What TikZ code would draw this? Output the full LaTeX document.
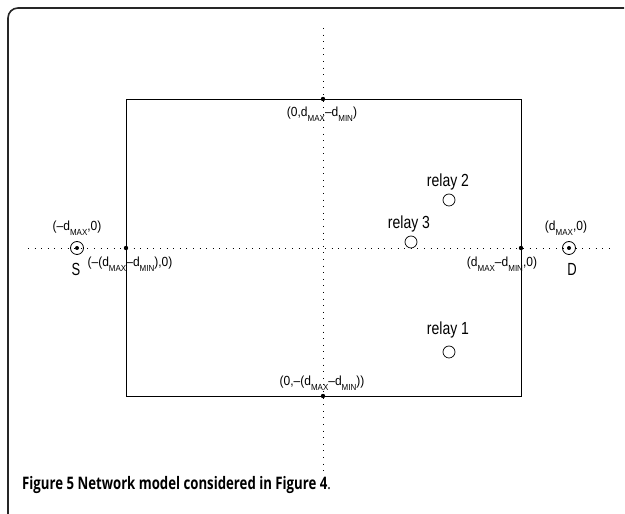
\documentclass[tikz,border=0pt]{standalone}
\usepackage{graphicx}
\usepackage{fontspec}
\setmainfont{Liberation Sans}
\newfontfamily\capfont{Open Sans}
\newcommand{\lowtxt}[1]{\raisebox{-.65ex}{\fontsize{8}{9}\selectfont #1}}
\newcommand{\dmax}{d\lowtxt{MAX}}
\newcommand{\dmin}{d\lowtxt{MIN}}
\newcommand{\tall}[2][1.2]{\scalebox{1}[#1]{#2}}
\tikzset{
  axis/.style={line width=.6pt, dash pattern=on .6pt off 6pt},
  term/.style={circle, draw, line width=.8pt, minimum size=13pt, inner sep=0pt},
  relay/.style={circle, draw, line width=.7pt, minimum size=12pt, inner sep=0pt},
  crd/.style={font=\fontsize{12}{14}\selectfont, inner sep=1pt},
  lbl/.style={font=\fontsize{14}{16}\selectfont, inner sep=1pt}
}
\begin{document}
\begin{tikzpicture}[x=1pt, y=1pt]
\useasboundingbox (0,0) rectangle (625,514);
\draw[line width=1.6pt, black!85, rounded corners=10pt] (8,0) -- (8,506) -- (624,506);
\coordinate (xl) at (28,266);
\coordinate (xr) at (612,266);
\coordinate (yt) at (323,486);
\coordinate (yb) at (323,42);
\draw[axis] (xl) -- (xr);
\draw[axis] (yt) -- (yb);
\draw[line width=.8pt] (126,118) rectangle (521,415);
\foreach \p/\q in {pl/{126,266}, pr/{521,266}, pt/{323,415}, pb/{323,118}}
  \fill (\q) coordinate (\p) circle (2.2pt);
\node[term] (s) at (77,266) {};
\fill (s) circle (2pt);
\node[term] (d) at (569,266) {};
\fill (d) circle (2pt);
\node[relay] (r1) at (449,162) {};
\node[relay] (r2) at (449,314) {};
\node[relay] (r3) at (411,272) {};
\node[lbl] (r1l) at (448,184) {\tall[1.25]{relay 1}};
\node[lbl] (r2l) at (448,332) {\tall[1.25]{relay 2}};
\node[lbl] (r3l) at (409,290) {\tall[1.25]{relay 3}};
\node[crd] (sl) at (77,286) {\tall[1.1]{(–\dmax,0)}};
\node[crd, font=\fontsize{13}{15}\selectfont] (sn) at (76,245) {\tall[1.35]{S}};
\node[crd] (pll) at (130,250) {\tall[1.1]{(–(\dmax–\dmin),0)}};
\node[crd] (dl) at (566,286) {\tall[1.1]{(\dmax,0)}};
\node[crd, font=\fontsize{13}{15}\selectfont] (dn) at (572,245) {\tall[1.35]{D}};
\node[crd] (prl) at (502,250) {\tall[1.1]{(\dmax–\dmin,0)}};
\node[crd] (ptl) at (322,400) {\tall[1.1]{(0,\dmax–\dmin)}};
\node[crd] (pbl) at (322,131) {\tall[1.1]{(0,–(\dmax–\dmin))}};
\node[anchor=west, inner sep=0pt, font=\capfont\fontsize{15}{18}\selectfont] (cap) at (22,29)
  {\scalebox{.88}[1.15]{\textbf{Figure 5 Network model considered in Figure 4}.}};
\end{tikzpicture}
\end{document}
